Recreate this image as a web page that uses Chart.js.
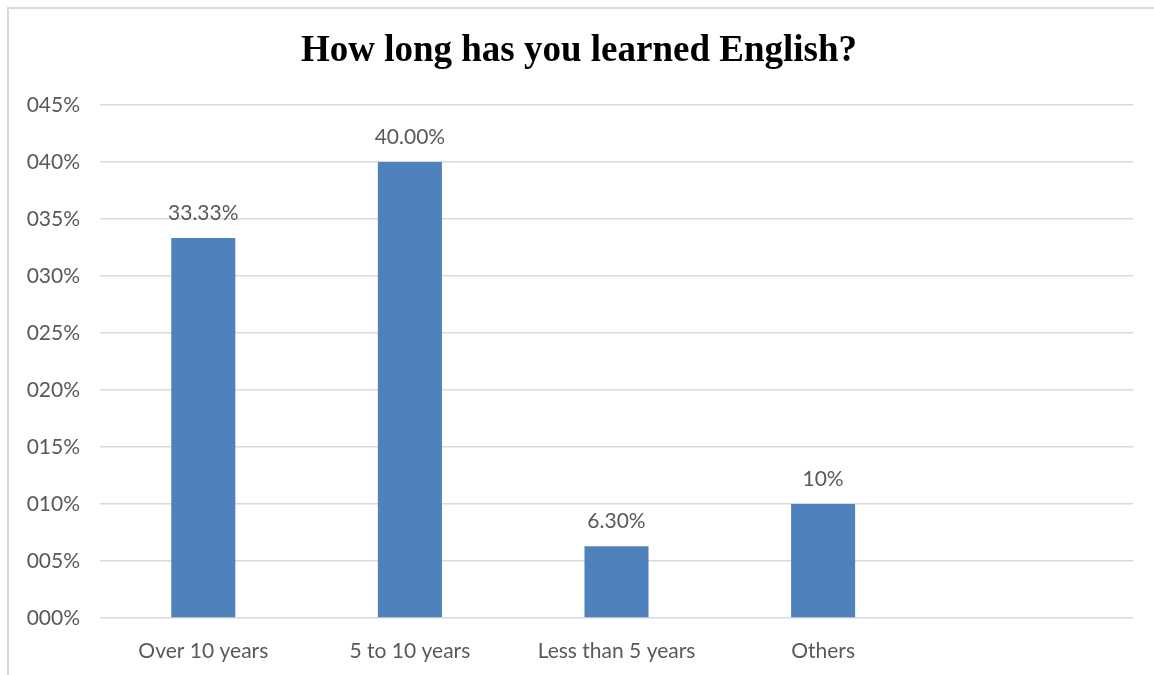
<!DOCTYPE html>
<html>
<head>
<meta charset="utf-8">
<script src="https://cdn.jsdelivr.net/npm/chart.js@4"></script>
<style>
  html, body { margin: 0; padding: 0; background: #fff; }
  #wrap {
    position: absolute; left: 7px; top: 7px;
    width: 1147px; height: 668px;
    border-top: 2px solid #d9d9d9; border-left: 2px solid #d9d9d9;
    box-sizing: border-box;
  }
  #chart { display: block; }
</style>
</head>
<body>
<div id="wrap"><canvas id="chart" width="1145" height="666"></canvas></div>
<script>
const categories = ["Over 10 years", "5 to 10 years", "Less than 5 years", "Others", ""];
const shares = [33.33, 40, 6.3, 10, null];
const shareLabels = ["33.33%", "40.00%", "6.30%", "10%", ""];

// Value labels over each bar
const barLabels = {
  id: "barLabels",
  afterDatasetsDraw(chart) {
    const ctx = chart.ctx;
    const meta = chart.getDatasetMeta(0);
    ctx.save();
    ctx.font = "21px Lato";
    ctx.fillStyle = "#595959";
    ctx.textAlign = "center";
    ctx.textBaseline = "middle";
    meta.data.forEach((bar, i) => {
      if (shares[i] == null) return;
      ctx.fillText(shareLabels[i], bar.x, bar.y - 25);
    });
    ctx.restore();
  },
};

const ctx = document.getElementById("chart").getContext("2d");

new Chart(ctx, {
  type: "bar",
  data: {
    labels: categories,
    datasets: [
      {
        data: shares,
        backgroundColor: "#4f81bd",
        categoryPercentage: 1,
        barPercentage: 0.31,
      },
    ],
  },
  options: {
    responsive: false,
    animation: false,
    layout: { padding: { left: 16, right: 21, top: 0, bottom: 0 } },
    plugins: {
      legend: { display: false },
      tooltip: { enabled: false },
      title: {
        display: true,
        text: "How long has you learned English?",
        color: "#000",
        font: { family: "Liberation Serif", size: 37, weight: "bold" },
        padding: { top: 20.4, bottom: 31.2 },
      },
    },
    scales: {
      x: {
        grid: { display: false },
        border: { display: false },
        ticks: {
          color: "#595959",
          font: { family: "Lato", size: 21 },
          padding: 13,
          maxRotation: 0,
          autoSkip: false,
        },
        afterFit: (s) => { s.height = 57; },
      },
      y: {
        min: 0,
        max: 45,
        grid: { color: "#d9d9d9", lineWidth: 1.5, drawTicks: false },
        border: { display: false },
        ticks: {
          stepSize: 5,
          color: "#595959",
          font: { family: "Lato", size: 21 },
          padding: 20,
          callback: (v) => String(v).padStart(3, "0") + "%",
        },
        afterFit: (s) => { s.width = 75; },
      },
    },
  },
  plugins: [barLabels],
});
</script>
</body>
</html>
